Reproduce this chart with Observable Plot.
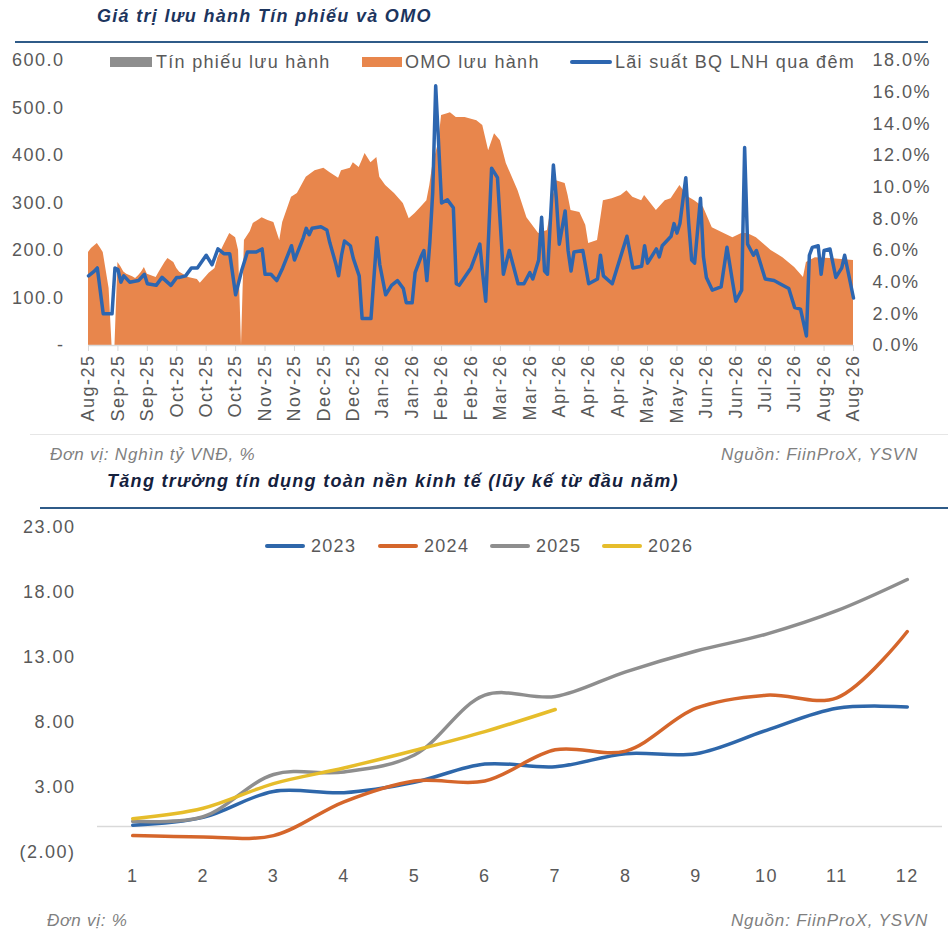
<!DOCTYPE html>
<html><head><meta charset="utf-8">
<script src="https://cdn.jsdelivr.net/npm/d3@7"></script>
<script src="https://cdn.jsdelivr.net/npm/@observablehq/plot@0.6"></script>
<style>
body{margin:0;background:#fff;font-family:"Liberation Sans",Arial,sans-serif;}
#wrap{position:relative;width:948px;height:935px;overflow:hidden;background:#fff;}
.abs{position:absolute;white-space:nowrap;}
.title{font-weight:bold;font-style:italic;font-size:18px;letter-spacing:1.3px;line-height:20px;}
.note{font-style:italic;font-size:17px;color:#7f7f7f;letter-spacing:0.8px;line-height:18px;}
.legtxt{font-size:18px;color:#595959;letter-spacing:1.3px;line-height:20px;}
.chart{position:absolute;left:0;}
</style></head>
<body><div id="wrap"></div>
<script>
// ---------- Top chart data ----------
const xLabels = ["Aug-25","Sep-25","Sep-25","Oct-25","Oct-25","Oct-25","Nov-25","Nov-25","Dec-25","Dec-25","Jan-26","Jan-26","Feb-26","Feb-26","Mar-26","Mar-26","Apr-26","Apr-26","Apr-26","May-26","May-26","Jun-26","Jun-26","Jul-26","Jul-26","Aug-26","Aug-26"];
const tickStep = 10;
const leftTicks = [0,100,200,300,400,500,600];
const rightTicks = [0,2,4,6,8,10,12,14,16,18];

// OMO lưu hành (nghìn tỷ VNĐ), by trading-day index
const omoIdx = [0,1,3,4,5,6,7,8,9,10,11,12,13,15,16,17,18,19,20,23,24,26,27,29,30,31,34,37,38,41,43,44,46,48,50,51,52,53,55,56,58,59,61,63,65,66,69,71,74,77,80,82,85,86,89,90,92,93,94,96,98,99,101,104,107,109,111,113,115,116,117,119,120,122,123,125,128,132,134,136,138,140,142,146,149,153,155,156,158,159,162,163,164,167,169,170,173,175,178,181,183,185,188,189,193,196,198,201,204,206,209,212,216,219,222,224,227,232,236,240,243,244,247,252,260];
const omoVal = [196,204,215,206,196,158,120,0,0,175,166,155,150,145,141,147,154,164,150,143,154,175,183,175,162,154,143,139,131,152,162,185,211,236,227,200,0,221,240,257,265,269,263,259,221,259,312,320,354,368,373,364,352,368,373,385,375,389,404,385,396,354,337,320,299,267,278,291,305,337,380,427,484,488,490,480,480,473,463,410,446,431,383,326,269,236,240,242,316,347,341,316,284,280,253,215,221,305,309,316,326,312,305,316,284,305,309,337,312,305,291,248,236,227,236,236,227,200,185,164,143,175,185,183,179];

// Lãi suất BQ LNH qua đêm (%)
const rateIdx = [0,2,3,5,8,9,10,11,12,14,17,19,20,23,25,28,30,31,33,35,37,40,42,44,46,48,50,52,54,57,59,60,62,64,66,69,70,73,74,75,76,79,81,82,84,85,86,87,89,90,92,93,96,98,99,101,103,105,107,108,110,111,113,114,115,116,117,118,120,122,124,125,126,130,133,134,135,137,139,141,143,146,148,150,151,153,154,155,156,158,159,160,162,163,164,165,168,170,173,174,175,178,183,185,188,189,190,193,194,195,198,199,200,201,203,204,205,206,208,209,210,212,215,217,219,220,222,223,224,226,227,230,233,235,238,240,242,244,245,246,248,249,250,252,254,256,257,260];
const rateVal = [4.4,4.7,4.9,2.0,2.0,4.9,4.8,4.0,4.4,4.0,4.1,4.5,3.9,3.8,4.3,3.8,4.3,4.3,4.4,4.9,4.9,5.7,5.1,6.1,5.8,5.8,3.2,4.7,5.9,5.9,6.1,4.5,4.5,4.1,4.9,6.3,5.4,6.8,7.4,7.0,7.4,7.5,7.3,6.5,5.2,4.4,5.7,6.6,6.3,5.5,4.4,1.7,1.7,6.8,5.1,3.2,3.8,4.1,3.6,2.7,2.7,4.6,5.6,6.0,4.1,6.5,9.7,16.4,9.0,9.2,8.7,3.9,3.8,4.9,6.4,4.5,2.8,11.2,10.6,4.5,6.0,3.9,3.9,4.6,4.2,5.4,8.1,4.7,4.5,11.4,9.3,6.4,8.5,6.0,4.7,5.9,6.0,3.9,4.2,5.7,4.4,3.9,6.9,4.9,5.0,6.3,5.2,6.1,5.6,6.3,6.9,7.7,7.1,7.7,10.6,7.7,5.4,5.2,9.3,5.6,4.3,3.5,3.7,6.2,3.9,2.8,3.5,12.5,6.4,5.7,6.0,4.2,4.1,3.9,3.6,2.4,2.3,0.6,5.7,6.2,6.3,4.5,6.0,6.1,4.3,4.9,5.7,3.0];

// ---------- Bottom chart data ----------
const months = [1,2,3,4,5,6,7,8,9,10,11,12];
const y2023 = [0.1,0.7,2.7,2.6,3.4,4.8,4.6,5.6,5.6,7.4,9.1,9.2];
const y2024 = [-0.7,-0.8,-0.7,1.9,3.5,3.5,5.9,5.8,9.1,10.1,9.9,15.0];
const y2025 = [0.4,0.75,4.0,4.2,5.5,10.1,10.0,11.9,13.5,14.8,16.6,19.0];
const y2026 = [0.6,1.4,3.3,4.5,5.85,7.3,9.0];
const yTicks2 = [-2,3,8,13,18,23];
const seriesNames = ["2023","2024","2025","2026"];
const seriesColors = ["#2E67AA","#D5662B","#8E8E8E","#E6BD2B"];

// ---------- build ----------
const wrap = document.getElementById("wrap");
function add(html){ wrap.insertAdjacentHTML("beforeend", html); }

const omoData = omoIdx.map((i,k)=>({i, v: omoVal[k]}));
const rateData = rateIdx.map((i,k)=>({i, v: rateVal[k]}));
const rScale = 600/18;

const fontStyle = {fontFamily:"'Liberation Sans', Arial, sans-serif", fontSize:"18px", color:"#595959", background:"transparent", overflow:"visible", letterSpacing:"1.5px"};

const topChart = Plot.plot({
  width: 948, height: 385,
  marginTop: 15, marginBottom: 85, marginLeft: 88, marginRight: 95,
  x: {domain:[0,260], axis:null},
  y: {domain:[0,600], axis:null},
  style: fontStyle,
  marks: [
    Plot.areaY(omoData, {x:"i", y:"v", fill:"#E8864C"}),
    Plot.ruleY([0], {stroke:"#d9d9d9", strokeWidth:1.5}),
    Plot.line(rateData, {x:"i", y:d=>d.v*rScale, stroke:"#2D66B0", strokeWidth:3.5, strokeLinejoin:"round"}),
    Plot.axisY(leftTicks, {anchor:"left", label:null, tickSize:0, tickPadding:24, fill:"#595959",
      tickFormat:d=> d===0 ? "-" : d.toFixed(1)}),
    Plot.axisY(rightTicks.map(t=>t*rScale), {anchor:"right", label:null, tickSize:0, tickPadding:19, fill:"#595959",
      tickFormat:d=> (d/rScale).toFixed(1)+"%"}),
    Plot.axisX(d3.range(0,261,tickStep), {anchor:"bottom", label:null, tickSize:6, tickPadding:3, tickRotate:-90,
      stroke:"#d9d9d9", fill:"#595959", tickFormat:d=>xLabels[Math.round(d/tickStep)]})
  ]
});
topChart.classList.add("chart");
topChart.style.top = "45px";
wrap.appendChild(topChart);

const bottomMarks = [Plot.ruleY([0], {stroke:"#d9d9d9", strokeWidth:1.5})];
[y2023,y2024,y2025,y2026].forEach((arr,k)=>{
  const data = arr.map((v,j)=>({m: months[j], v}));
  bottomMarks.push(Plot.line(data, {x:"m", y:"v", stroke:seriesColors[k], strokeWidth:3.5, curve:"catmull-rom"}));
});
bottomMarks.push(Plot.axisY(yTicks2, {anchor:"left", label:null, tickSize:0, tickPadding:22, fill:"#595959",
  tickFormat:d=> d<0 ? "("+(-d).toFixed(2)+")" : d.toFixed(2)}));
bottomMarks.push(Plot.axisX(months, {anchor:"bottom", label:null, tickSize:0, tickPadding:17, fill:"#595959"}));

const botChart = Plot.plot({
  width: 948, height: 380,
  marginTop: 15, marginBottom: 40, marginLeft: 97, marginRight: 6,
  x: {domain:[0.5,12.5], axis:null},
  y: {domain:[-2,23], axis:null},
  style: fontStyle,
  marks: bottomMarks
});
botChart.classList.add("chart");
botChart.style.top = "512px";
wrap.appendChild(botChart);

// ---------- texts, rules, legends ----------
add('<div class="abs title" style="left:97px;top:6px;color:#1C355E">Giá trị lưu hành Tín phiếu và OMO</div>');
add('<div class="abs" style="left:15px;top:41px;width:913px;height:2px;background:#2F5B88"></div>');
// top legend
add('<div class="abs" style="left:110px;top:57px;width:42px;height:10px;background:#8E8E8E"></div>');
add('<div class="abs legtxt" style="left:156px;top:52px">Tín phiếu lưu hành</div>');
add('<div class="abs" style="left:362px;top:57px;width:40px;height:10px;background:#E8864C"></div>');
add('<div class="abs legtxt" style="left:405px;top:52px">OMO lưu hành</div>');
add('<div class="abs" style="left:570px;top:60px;width:42px;height:4px;border-radius:2px;background:#2D66B0"></div>');
add('<div class="abs legtxt" style="left:615px;top:52px">Lãi suất BQ LNH qua đêm</div>');

add('<div class="abs" style="left:30px;top:434px;width:918px;height:1px;background:#e6e6e6"></div>');
add('<div class="abs note" style="left:50px;top:446px">Đơn vị: Nghìn tỷ VNĐ, %</div>');
add('<div class="abs note" style="right:30px;top:446px">Nguồn: FiinProX, YSVN</div>');

add('<div class="abs title" style="left:107px;top:471px;color:#14213D">Tăng trưởng tín dụng toàn nền kinh tế (lũy kế từ đầu năm)</div>');
add('<div class="abs" style="left:40px;top:507px;width:908px;height:2px;background:#2F5B88"></div>');
const legX = [265,378,490,602];
seriesNames.forEach((n,k)=>{
  add(`<div class="abs" style="left:${legX[k]}px;top:544px;width:40px;height:4px;border-radius:2px;background:${seriesColors[k]}"></div>`);
  add(`<div class="abs legtxt" style="left:${legX[k]+46}px;top:536px">${n}</div>`);
});
add('<div class="abs note" style="left:47px;top:912px">Đơn vị: %</div>');
add('<div class="abs note" style="right:20px;top:912px">Nguồn: FiinProX, YSVN</div>');
</script>
</body></html>
